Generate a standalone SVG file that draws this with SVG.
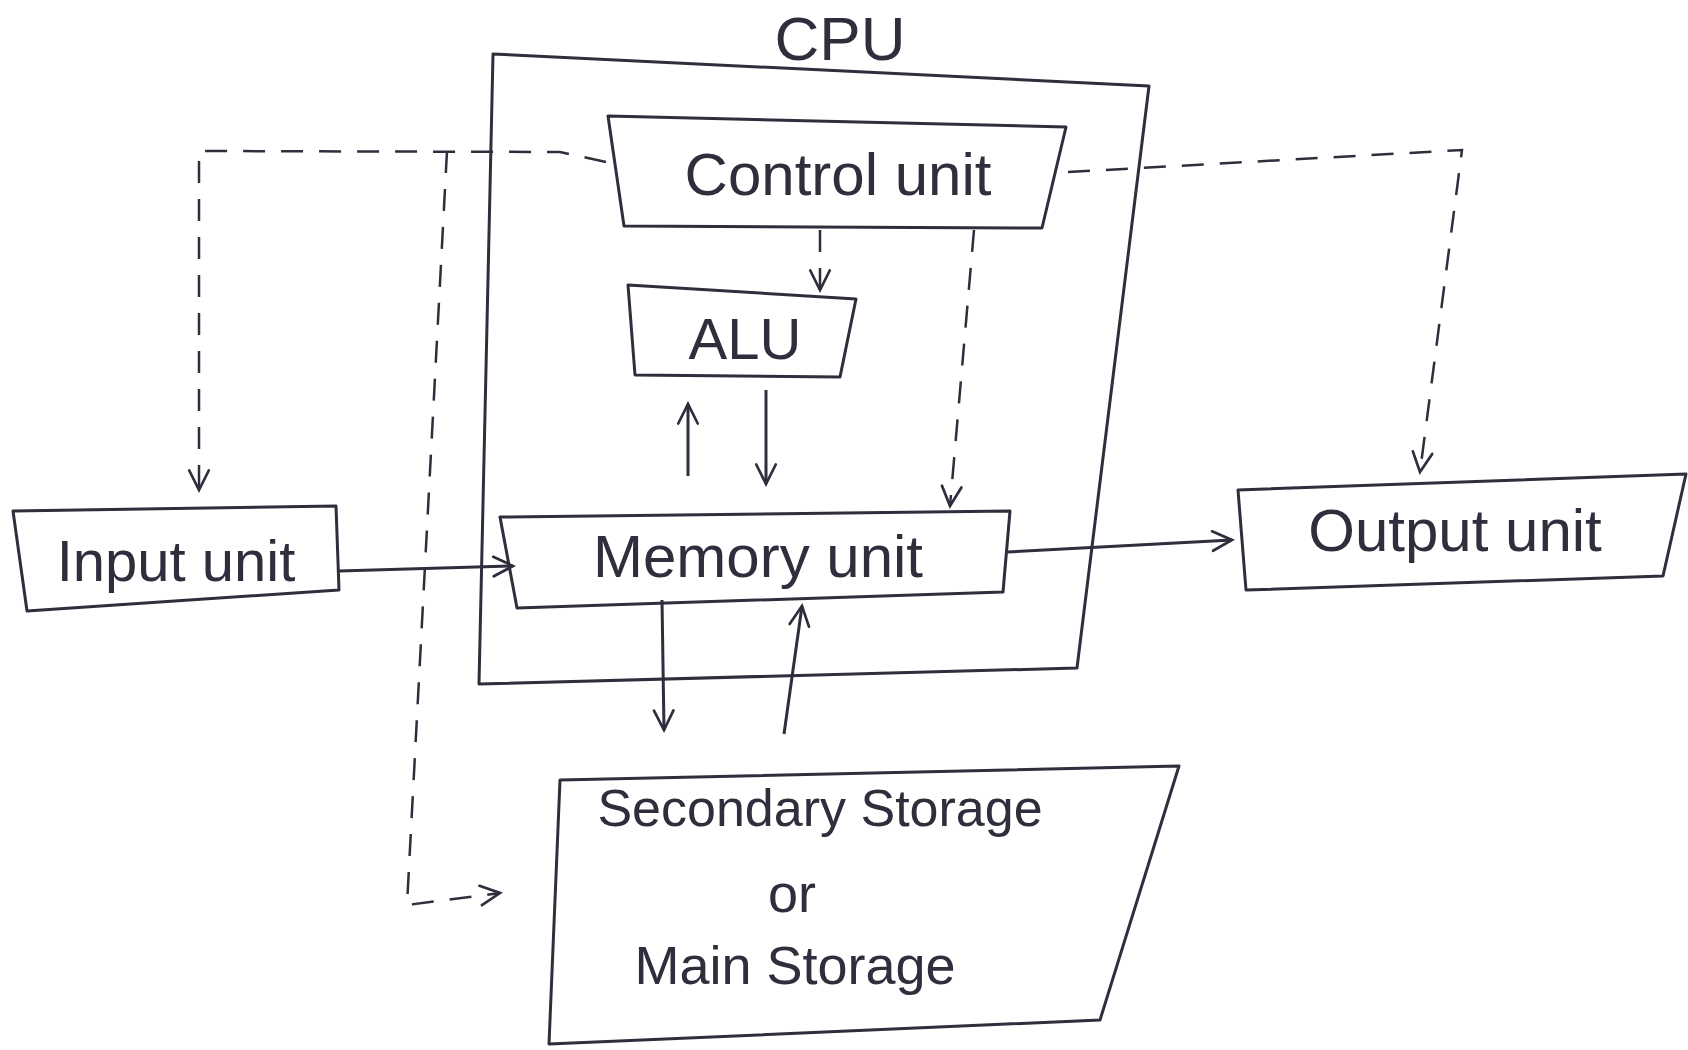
<svg xmlns="http://www.w3.org/2000/svg" width="1688" height="1050" viewBox="0 0 1688 1050">
<defs>
<style>
.box{fill:none;stroke:#2e2e3c;stroke-width:3;stroke-linejoin:round}
.lbl{font-family:"Liberation Sans","DejaVu Sans",sans-serif;fill:#2e2e3c;text-anchor:middle;dominant-baseline:central}
.solid{fill:none;stroke:#2e2e3c;stroke-width:3;marker-end:url(#arr)}
.dash{fill:none;stroke:#2e2e3c;stroke-width:2.5;stroke-dasharray:22 16;marker-end:url(#arr)}
</style>
<marker id="arr" viewBox="0 0 24 24" refX="21" refY="12" markerWidth="26" markerHeight="26" markerUnits="userSpaceOnUse" orient="auto">
<path d="M3,3 L21,12 L3,21" fill="none" stroke="#2e2e3c" stroke-width="2.5" stroke-linecap="round"/>
</marker>
</defs>
<rect width="1688" height="1050" fill="#ffffff"/>
<g id="cpu">
<polygon class="box" points="493,54 1149,86 1077,668 479,684"/>
<text class="lbl" x="840" y="38" font-size="62">CPU</text>
</g>
<g id="control-unit">
<polygon class="box" points="608,116 1066,127 1042,228 624,226"/>
<text class="lbl" x="838" y="174" font-size="60">Control unit</text>
</g>
<g id="alu">
<polygon class="box" points="628,285 856,299 840,377 635,375"/>
<text class="lbl" x="745" y="338" font-size="58">ALU</text>
</g>
<g id="memory-unit">
<polygon class="box" points="500,517 1010,511 1003,592 517,608"/>
<text class="lbl" x="758" y="556" font-size="60">Memory unit</text>
</g>
<g id="input-unit">
<polygon class="box" points="13,511 336,506 339,590 27,611"/>
<text class="lbl" x="176" y="560" font-size="58">Input unit</text>
</g>
<g id="output-unit">
<polygon class="box" points="1238,490 1686,474 1663,576 1246,590"/>
<text class="lbl" x="1455" y="530" font-size="60">Output unit</text>
</g>
<g id="storage">
<polygon class="box" points="560,780 1179,766 1100,1020 549,1044"/>
<text class="lbl" x="820" y="808" font-size="52">Secondary Storage</text>
<text class="lbl" x="792" y="893" font-size="54">or</text>
<text class="lbl" x="795" y="965" font-size="54">Main Storage</text>
</g>
<g id="connectors">
<path class="solid" d="M339,571 L513,566"/>
<path class="solid" d="M1007,552 L1232,540"/>
<path class="solid" d="M766,390 L766,484"/>
<path class="solid" d="M688,476 L688,404"/>
<path class="solid" d="M662,600 L664,730"/>
<path class="solid" d="M784,734 L802,606"/>
<path class="dash" d="M820,230 L820,290"/>
<path class="dash" d="M974,230 L950,506"/>
<path class="dash" d="M606,162 L560,152 L199,151 L199,490"/>
<path class="dash" d="M447,151 L407,905 L500,893"/>
<path class="dash" d="M1068,172 L1462,150 L1420,472"/>
</g>
</svg>
